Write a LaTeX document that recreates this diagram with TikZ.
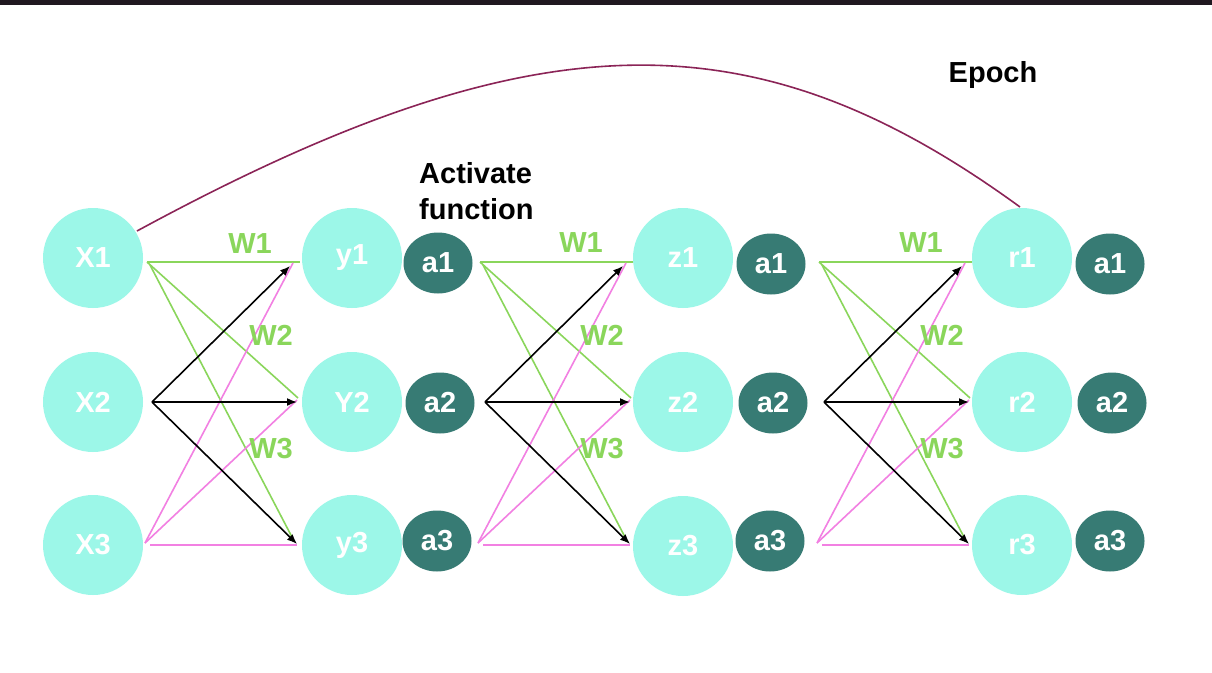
\documentclass[tikz,border=0pt]{standalone}
\usepackage{fontspec}
\setmainfont{Liberation Sans}
\usetikzlibrary{arrows.meta,shapes.geometric}
\definecolor{lteal}{HTML}{9CF7E8}
\definecolor{dteal}{HTML}{377B74}
\definecolor{wgreen}{HTML}{8AD65B}
\definecolor{wpink}{HTML}{F280E2}
\definecolor{epochc}{HTML}{8B2457}
\definecolor{topbar}{HTML}{201820}
\tikzset{
  neuron/.style={circle,fill=lteal,minimum size=100pt,inner sep=0pt,text=white,font=\bfseries\fontsize{29}{34}\selectfont},
  actnode/.style={ellipse,fill=dteal,minimum width=69pt,minimum height=61pt,inner sep=0pt,text=white,font=\bfseries\fontsize{29}{34}\selectfont},
  wlabel/.style={text=wgreen,font=\bfseries\fontsize{29}{34}\selectfont,inner sep=0pt},
  glink/.style={draw=wgreen,line width=1.6pt},
  plink/.style={draw=wpink,line width=1.6pt},
  blink/.style={draw=black,line width=1.6pt,-{Latex[length=10pt,width=8pt]}},
  note/.style={font=\bfseries\fontsize{29}{36}\selectfont,text=black,inner sep=0pt,align=left}
}
\begin{document}
\begin{tikzpicture}[x=1pt,y=-1pt]
\useasboundingbox (0,0) rectangle (1212,672);
\fill[white] (0,0) rectangle (1212,672);
\fill[topbar] (0,0) rectangle (1212,5);
% input nodes
\node[neuron] (X1) at (93,258) {X1};
\node[neuron] (X2) at (93,402) {X2};
\node[neuron] (X3) at (93,545) {X3};
% layer y
\node[neuron] (y1) at (352,258) {y1};
\node[neuron] (y2) at (352,402) {Y2};
\node[neuron] (y3) at (352,545) {y3};
\node[actnode] (ya1) at (438,263) {a1};
\node[actnode] (ya2) at (440,403) {a2};
\node[actnode] (ya3) at (437,541) {a3};
% layer z
\node[neuron] (z1) at (683,258) {z1};
\node[neuron] (z2) at (683,402) {z2};
\node[neuron] (z3) at (683,546) {z3};
\node[actnode] (za1) at (771,264) {a1};
\node[actnode] (za2) at (773,403) {a2};
\node[actnode] (za3) at (770,541) {a3};
% layer r
\node[neuron] (r1) at (1022,258) {r1};
\node[neuron] (r2) at (1022,402) {r2};
\node[neuron] (r3) at (1022,545) {r3};
\node[actnode] (ra1) at (1110,264) {a1};
\node[actnode] (ra2) at (1112,403) {a2};
\node[actnode] (ra3) at (1110,541) {a3};
% weight connections
\foreach \o/\n in {0/a,333/b,672/c}{
  \coordinate (g1\n) at (147+\o,262);
  \coordinate (g3\n) at (150+\o,265);
  \coordinate (b\n) at (152+\o,402);
  \coordinate (p1\n) at (145+\o,543);
  \coordinate (p3\n) at (150+\o,545);
  \coordinate (e1\n) at (300+\o,262);
  \coordinate (e2\n) at (298+\o,398);
  \coordinate (e3\n) at (293+\o,539);
  \coordinate (k1\n) at (290+\o,266);
  \coordinate (k2\n) at (297+\o,402);
  \coordinate (k3\n) at (297+\o,544);
  \coordinate (q1\n) at (293+\o,263);
  \coordinate (q2\n) at (297+\o,400);
  \coordinate (q3\n) at (297+\o,545);
  \draw[glink] (g1\n) -- (e1\n);
  \draw[glink] (g1\n) -- (e2\n);
  \draw[glink] (g3\n) -- (e3\n);
  \draw[plink] (p1\n) -- (q1\n);
  \draw[plink] (p1\n) -- (q2\n);
  \draw[plink] (p3\n) -- (q3\n);
  \draw[blink] (b\n) -- (k1\n);
  \draw[blink] (b\n) -- (k2\n);
  \draw[blink] (b\n) -- (k3\n);
}
\node[wlabel] (w1a) at (250,244) {W1};
\node[wlabel] (w2a) at (271,335) {W2};
\node[wlabel] (w3a) at (271,449) {W3};
\node[wlabel] (w1b) at (581,243) {W1};
\node[wlabel] (w2b) at (602,335) {W2};
\node[wlabel] (w3b) at (602,449) {W3};
\node[wlabel] (w1c) at (921,243) {W1};
\node[wlabel] (w2c) at (942,335) {W2};
\node[wlabel] (w3c) at (942,449) {W3};
% notes
\node[note,anchor=north west] (act) at (419,162) {Activate\\function};
\node[note] (epoch) at (993,75) {Epoch};
% epoch curve
\coordinate (cs) at (137,231);
\coordinate (ce) at (1020,207);
\draw[epochc,line width=1.6pt] (cs) .. controls (537,14) and (755,14) .. (ce);
\end{tikzpicture}
\end{document}
